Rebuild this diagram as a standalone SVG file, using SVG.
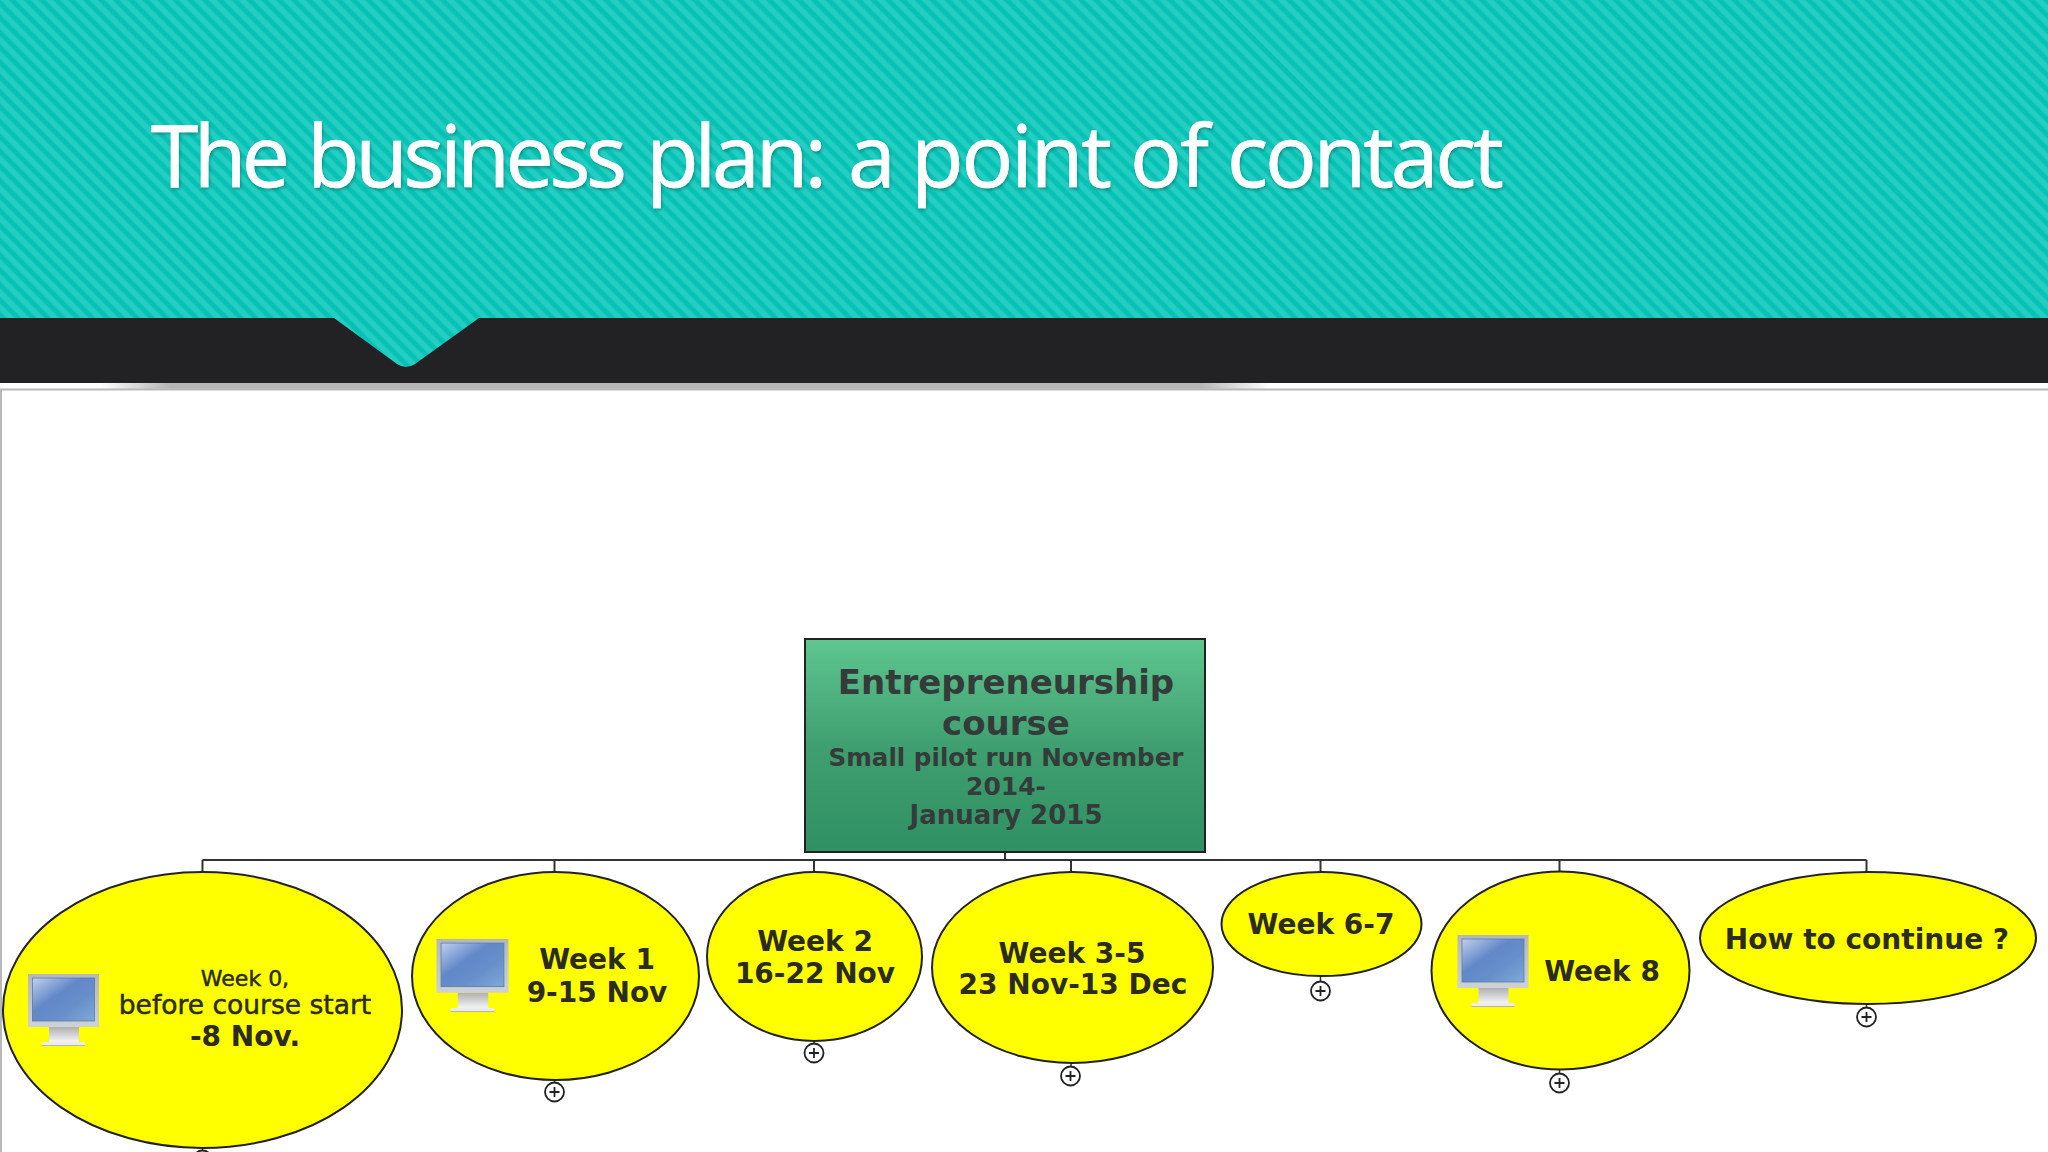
<svg xmlns="http://www.w3.org/2000/svg" width="2048" height="1152" viewBox="0 0 2048 1152">
<style>
.t{font-family:"DejaVu Sans",Verdana,sans-serif;font-weight:700;fill:#2b2b20;text-anchor:middle}
.m{font-weight:400;stroke:#2b2b20;stroke-width:.5}
.r{fill:#353b38}
.bubble{fill:#ffff00;stroke:#222;stroke-width:2}
.wire{fill:none;stroke:#333;stroke-width:2}
.plus{fill:#fff;stroke:#222;stroke-width:1.800}
.pm{stroke:#222;stroke-width:1.800;fill:none}
.ti{font-family:"Open Sans",sans-serif;font-size:86px;fill:#fff;stroke:#fff;stroke-width:.7}
</style>
<defs>
<pattern id="stripes" width="10.500" height="10.500" patternUnits="userSpaceOnUse" patternTransform="rotate(-45)">
<rect width="10.500" height="10.500" fill="#06c2b4"/>
<rect x="0" width="6.500" height="10.500" fill="#16c9bc"/>
<rect x="1" width="4.500" height="10.500" fill="#25cec2"/>
</pattern>
<filter id="ts" x="-2%" y="-20%" width="104%" height="140%">
<feDropShadow dx="1" dy="2" stdDeviation="1.500" flood-color="#000" flood-opacity=".28"/>
</filter>
<linearGradient id="green" x1="0" y1="0" x2="0" y2="1">
<stop offset="0" stop-color="#5ec690"/><stop offset="0.5" stop-color="#3f9f70"/><stop offset="1" stop-color="#2f9063"/>
</linearGradient>
<linearGradient id="shadow" x1="0" y1="0" x2="1" y2="0">
<stop offset="0" stop-color="#b5b5b5" stop-opacity="0"/><stop offset="0.06" stop-color="#b5b5b5"/><stop offset="0.94" stop-color="#b5b5b5"/><stop offset="1" stop-color="#b5b5b5" stop-opacity="0"/>
</linearGradient>
<linearGradient id="screen" x1="0" y1="0" x2="1" y2="1">
<stop offset="0" stop-color="#c0d0ee"/><stop offset="0.4" stop-color="#6288c8"/><stop offset="0.65" stop-color="#668fca"/><stop offset="1" stop-color="#7eaad6"/>
</linearGradient>
<linearGradient id="frame" x1="0" y1="0" x2="0" y2="1">
<stop offset="0" stop-color="#b4b8bc"/><stop offset="1" stop-color="#cfd2d5"/>
</linearGradient>
<linearGradient id="neck" x1="0" y1="0" x2="0" y2="1">
<stop offset="0" stop-color="#b0b0b0"/><stop offset="1" stop-color="#f4f4f4"/>
</linearGradient>
<symbol id="monitor" viewBox="0 0 71 72">
<rect x="21" y="53" width="30" height="15" fill="url(#neck)"/>
<rect x="14" y="68" width="43" height="4" fill="#ececec"/>
<rect x="14" y="71" width="43" height="1" fill="#b4b4b4"/>
<rect width="71" height="53" fill="url(#frame)"/>
<rect x="4.500" y="4" width="62" height="43" fill="url(#screen)" stroke="#5d7aa6" stroke-width=".8"/>
</symbol>
</defs>
<rect width="2048" height="1152" fill="#fff"/>
<g id="background">
<rect x="100" y="383" width="1170" height="7" fill="url(#shadow)"/>
<rect y="318" width="2048" height="65" fill="#222224"/>
<path d="M0 0H2048V318H479L415 364Q406 370 397 364L334 318H0Z" fill="url(#stripes)"/>
<path d="M0 389.500H2048M1 389V1152" stroke="#b9b9b9" stroke-width="2" fill="none"/>
</g>
<text id="title" y="187" filter="url(#ts)" class="ti" lengthAdjust="spacingAndGlyphs"><tspan x="151" textLength="139">The</tspan> <tspan x="307" textLength="320">business</tspan> <tspan x="646" textLength="181">plan:</tspan> <tspan x="848" textLength="42">a</tspan> <tspan x="911" textLength="201">point</tspan> <tspan x="1130" textLength="79">of</tspan> <tspan x="1227" textLength="277">contact</tspan></text>
<g id="connectors" class="wire">
<path d="M1005 852V860M202.500 860H1866.500M202.500 860V872M554.500 860V872M814 860V872M1071 860V872M1320.500 860V872M1559.500 860V872M1866.500 860V872"/>
<path d="M554.500 1080V1083M814 1041V1044M1071 1063V1067M1320.500 976V982M1559.500 1070V1074M1866.500 1004V1008M202.500 1148V1150" stroke-width="1.500"/>
</g>
<g id="root">
<rect x="805" y="639" width="400" height="213" fill="url(#green)" stroke="#222" stroke-width="2"/>
<text class="t r" x="1006" y="694" font-size="34">Entrepreneurship</text>
<text class="t r" x="1006" y="735" font-size="34">course</text>
<text class="t r" x="1006" y="766" font-size="24.600">Small pilot run November</text>
<text class="t r" x="1006" y="795" font-size="25">2014-</text>
<text class="t r" x="1006" y="824" font-size="26">January 2015</text>
</g>
<g id="week0">
<ellipse class="bubble" cx="202.500" cy="1010" rx="199.500" ry="138"/>
<use href="#monitor" x="28" y="974" width="71" height="72"/>
<text class="t m" x="245" y="986" font-size="22">Week 0,</text>
<text class="t m" x="245" y="1013.500" font-size="26.500">before course start</text>
<text class="t" x="245" y="1046" font-size="28">-8 Nov.</text>
<g transform="translate(202.500 1160)"><circle class="plus" r="9.500"/></g>
</g>
<g id="week1">
<ellipse class="bubble" cx="555.500" cy="976" rx="143.500" ry="104"/>
<use href="#monitor" x="436" y="939" width="73" height="73"/>
<text class="t" x="597" y="969" font-size="28">Week 1</text>
<text class="t" x="597" y="1002" font-size="28">9-15 Nov</text>
<g transform="translate(554.500 1092)"><circle class="plus" r="9.500"/><path class="pm" d="M-5 0H5M0 -5V5"/></g>
</g>
<g id="week2">
<ellipse class="bubble" cx="814.500" cy="956.500" rx="107.500" ry="84.500"/>
<text class="t" x="815" y="950.500" font-size="28">Week 2</text>
<text class="t" x="815" y="982.500" font-size="28">16-22 Nov</text>
<g transform="translate(814 1053)"><circle class="plus" r="9.500"/><path class="pm" d="M-5 0H5M0 -5V5"/></g>
</g>
<g id="week3-5">
<ellipse class="bubble" cx="1072.500" cy="967.500" rx="140.500" ry="95.500"/>
<text class="t" x="1072" y="962.500" font-size="28">Week 3-5</text>
<text class="t" x="1073" y="994" font-size="28">23 Nov-13 Dec</text>
<g transform="translate(1070.500 1076)"><circle class="plus" r="9.500"/><path class="pm" d="M-5 0H5M0 -5V5"/></g>
</g>
<g id="week6-7">
<ellipse class="bubble" cx="1321.500" cy="924" rx="100" ry="52"/>
<text class="t" x="1321" y="934" font-size="28">Week 6-7</text>
<g transform="translate(1320.500 991)"><circle class="plus" r="9.500"/><path class="pm" d="M-5 0H5M0 -5V5"/></g>
</g>
<g id="week8">
<ellipse class="bubble" cx="1560.500" cy="970.500" rx="129" ry="99"/>
<use href="#monitor" x="1457" y="935" width="72" height="72"/>
<text class="t" x="1602" y="981" font-size="28">Week 8</text>
<g transform="translate(1559.500 1083)"><circle class="plus" r="9.500"/><path class="pm" d="M-5 0H5M0 -5V5"/></g>
</g>
<g id="continue">
<ellipse class="bubble" cx="1868" cy="938" rx="168" ry="66"/>
<text class="t" x="1867" y="948.500" font-size="28">How to continue ?</text>
<g transform="translate(1866.500 1017)"><circle class="plus" r="9.500"/><path class="pm" d="M-5 0H5M0 -5V5"/></g>
</g>
</svg>
